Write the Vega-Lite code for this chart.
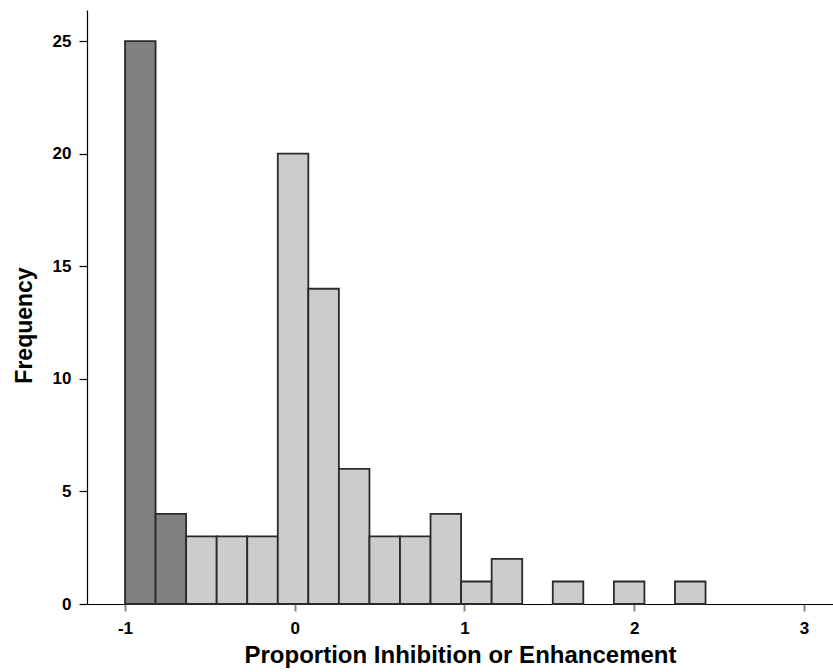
{
  "$schema": "https://vega.github.io/schema/vega-lite/v6.json",
  "autosize": {"type": "none"},
  "width": 746,
  "height": 594,
  "padding": {"left": 87, "top": 10, "right": 0, "bottom": 68},
  "background": "white",
  "config": {
    "view": {"stroke": null},
    "font": "Liberation Sans"
  },
  "data": {
    "values": [
      {"bin_start": -1.00, "bin_end": -0.82, "count": 25, "group": "inhibition"},
      {"bin_start": -0.82, "bin_end": -0.64, "count": 4, "group": "inhibition"},
      {"bin_start": -0.64, "bin_end": -0.46, "count": 3, "group": "other"},
      {"bin_start": -0.46, "bin_end": -0.28, "count": 3, "group": "other"},
      {"bin_start": -0.28, "bin_end": -0.10, "count": 3, "group": "other"},
      {"bin_start": -0.10, "bin_end": 0.08, "count": 20, "group": "other"},
      {"bin_start": 0.08, "bin_end": 0.26, "count": 14, "group": "other"},
      {"bin_start": 0.26, "bin_end": 0.44, "count": 6, "group": "other"},
      {"bin_start": 0.44, "bin_end": 0.62, "count": 3, "group": "other"},
      {"bin_start": 0.62, "bin_end": 0.80, "count": 3, "group": "other"},
      {"bin_start": 0.80, "bin_end": 0.98, "count": 4, "group": "other"},
      {"bin_start": 0.98, "bin_end": 1.16, "count": 1, "group": "other"},
      {"bin_start": 1.16, "bin_end": 1.34, "count": 2, "group": "other"},
      {"bin_start": 1.52, "bin_end": 1.70, "count": 1, "group": "other"},
      {"bin_start": 1.88, "bin_end": 2.06, "count": 1, "group": "other"},
      {"bin_start": 2.24, "bin_end": 2.42, "count": 1, "group": "other"}
    ]
  },
  "mark": {"type": "bar", "stroke": "#2a2a2a", "strokeWidth": 1.8, "cornerRadius": 0},
  "encoding": {
    "x": {
      "field": "bin_start",
      "type": "quantitative",
      "scale": {"domain": [-1.224, 3.171], "nice": false, "zero": false},
      "axis": {
        "values": [-1, 0, 1, 2, 3],
        "labelExpr": "'' + datum.value",
        "title": "Proportion Inhibition or Enhancement",
        "titleFont": "Liberation Sans",
        "titleFontSize": 24,
        "titleFontWeight": "bold",
        "titleColor": "#000000",
        "titlePadding": 7,
        "labelFont": "Liberation Sans",
        "labelFontSize": 17,
        "labelFontWeight": "bold",
        "labelColor": "#000000",
        "labelPadding": 9,
        "tickColor": "#888888",
        "tickSize": 7,
        "tickWidth": 2,
        "domainColor": "#000000",
        "domainWidth": 1.2,
        "grid": false
      }
    },
    "x2": {"field": "bin_end"},
    "y": {
      "field": "count",
      "type": "quantitative",
      "scale": {"domain": [0, 26.38], "nice": false},
      "axis": {
        "values": [0, 5, 10, 15, 20, 25],
        "title": "Frequency",
        "titleFont": "Liberation Sans",
        "titleFontSize": 23,
        "titleFontWeight": "bold",
        "titleColor": "#000000",
        "titlePadding": 16,
        "titleY": 315,
        "labelFont": "Liberation Sans",
        "labelFontSize": 17,
        "labelFontWeight": "bold",
        "labelColor": "#000000",
        "labelPadding": 8,
        "tickColor": "#000000",
        "tickSize": 8,
        "tickWidth": 1.2,
        "domainColor": "#000000",
        "domainWidth": 1.2,
        "grid": false
      }
    },
    "y2": {"datum": 0},
    "color": {
      "field": "group",
      "type": "nominal",
      "scale": {"domain": ["inhibition", "other"], "range": ["#808080", "#cccccc"]},
      "legend": null
    }
  }
}
